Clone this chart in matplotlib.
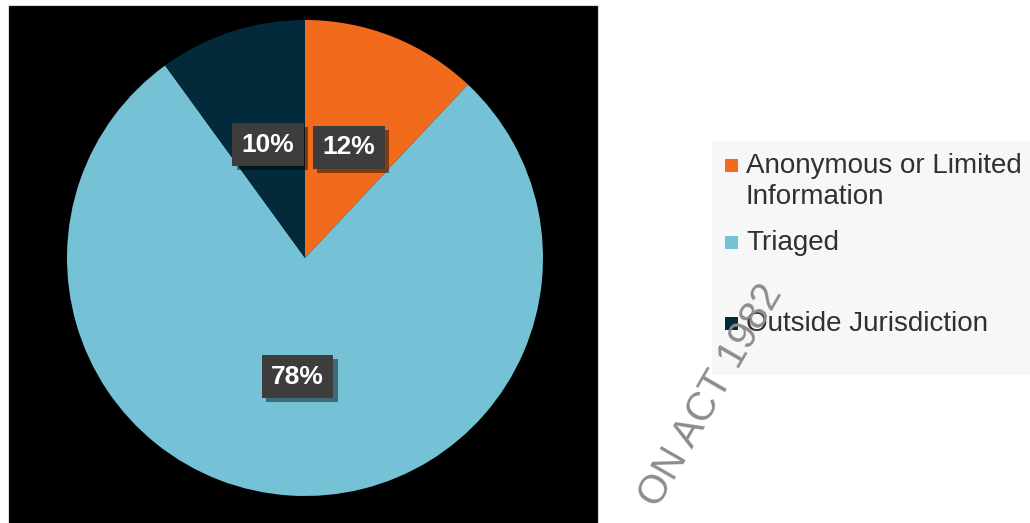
import matplotlib.pyplot as plt
import matplotlib.patheffects as pe
from matplotlib.patches import Rectangle

# dados
categorias = ["Anonymous or Limited\nInformation", "Triaged", "Outside Jurisdiction"]
valores = [12, 78, 10]
cores = ["#F26B1D", "#75C2D6", "#022A3A"]

W, H = 1030, 523
FONTE = ["Liberation Sans", "DejaVu Sans"]

fig = plt.figure(figsize=(W / 100, H / 100), dpi=100)
fig.patch.set_facecolor("white")

# painel preto com a pizza (coordenadas em pixels)
ax = fig.add_axes([8 / W, 0, 590 / W, 518 / H])
wedges, textos, autotextos = ax.pie(
    valores,
    colors=cores,
    startangle=90,
    counterclock=False,
    center=(305, 265),
    radius=238,
    autopct="%1.0f%%",
    pctdistance=0.5,
    frame=True,
    wedgeprops=dict(linewidth=0),
    textprops=dict(color="white", fontsize=19, fontweight="bold", family=FONTE),
)
ax.set_xlim(8, 598)
ax.set_ylim(0, 518)
ax.set_aspect("equal")
ax.set_facecolor("black")
ax.set_xticks([])
ax.set_yticks([])
for s in ax.spines.values():
    s.set_color("#d9d9d9")
    s.set_linewidth(0.8)
ax.spines["bottom"].set_visible(False)

for t in autotextos:
    t.set_bbox(dict(boxstyle="square,pad=0.36", facecolor="#3d3d3d", edgecolor="none"))
    t.get_bbox_patch().set_path_effects(
        [pe.SimplePatchShadow(offset=(3, -3), shadow_rgbFace="black", alpha=0.45), pe.Normal()])


# legenda manual
def px(x, y):
    return x / W, 1 - y / H


lx0, ly0 = px(712, 375)
fig.patches.append(Rectangle((lx0, ly0), (W - 712) / W, (375 - 141) / H,
                             transform=fig.transFigure, facecolor="#f7f7f7",
                             edgecolor="none", zorder=1))
pos_y = [165, 242, 323]
for cor, nome, y in zip(cores, categorias, pos_y):
    x0, y0 = px(725, y + 6.5)
    fig.patches.append(Rectangle((x0, y0), 13 / W, 13 / H, transform=fig.transFigure,
                                 facecolor=cor, edgecolor="none", zorder=2))
    if "\n" in nome:
        fig.text(746 / W, 1 - (y - 12) / H, nome, fontsize=20, color="#303030",
                 va="top", ha="left", family=FONTE, linespacing=1.25, zorder=3)
    else:
        fig.text(746 / W, 1 - (y + 1) / H, nome, fontsize=20, color="#303030",
                 va="center", ha="left", family=FONTE, zorder=3)

# marca d'agua
wx, wy = px(711, 395)
fig.text(wx, wy, "ON ACT 1982", fontsize=29, color="#8c8c8c", rotation=60,
         rotation_mode="anchor", ha="center", va="center", family=FONTE, zorder=5)

fig.savefig("out.png", dpi=100)
